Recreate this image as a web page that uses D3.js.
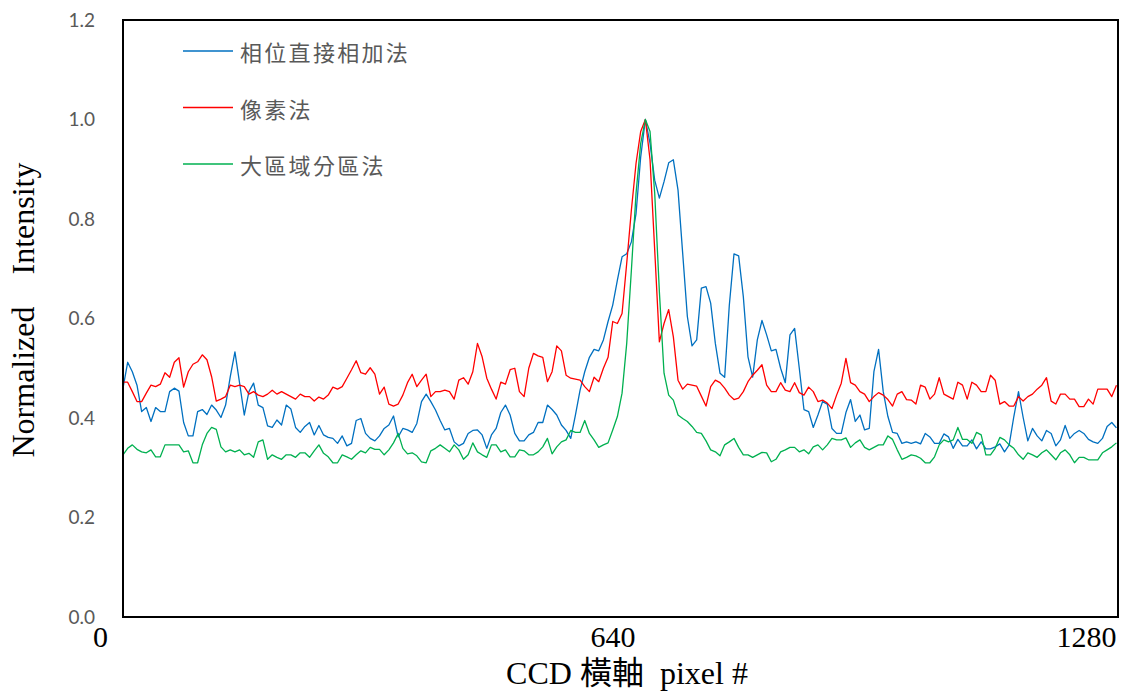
<!DOCTYPE html>
<html><head><meta charset="utf-8">
<script src="https://cdn.jsdelivr.net/npm/d3@7"></script>
<style>
html,body{margin:0;padding:0;background:#fff;}
svg{display:block;}
</style></head><body>
<svg id="chart" width="1122" height="693"></svg>
<script>
// ---- data ----
const seriesNames = ["相位直接相加法", "像素法", "大區域分區法"];
const seriesColors = ["#0070C0", "#FF0000", "#00B050"];
const xStep = 6; // pixel spacing between samples

const blueValues = [
.460,.512,.493,.466,.413,.421,.393,.421,.413,.413,
.453,.460,.454,.391,.364,.364,.413,.417,.407,.426,
.416,.401,.426,.483,.533,.470,.406,.453,.470,.426,
.421,.384,.381,.396,.386,.426,.418,.381,.371,.383,
.391,.366,.385,.366,.361,.359,.349,.364,.344,.349,
.395,.399,.369,.359,.354,.364,.379,.386,.404,.362,
.379,.376,.371,.389,.433,.448,.433,.416,.395,.376,
.379,.352,.344,.349,.369,.375,.376,.366,.339,.366,
.379,.411,.426,.406,.369,.354,.354,.366,.371,.391,
.391,.426,.417,.406,.386,.375,.359,.406,.456,.493,
.522,.538,.535,.557,.594,.627,.677,.724,.730,.754,
.811,.925,1.0,.952,.878,.842,.875,.913,.919,.858,
.731,.604,.545,.557,.661,.664,.631,.550,.490,.482,
.627,.730,.726,.644,.523,.482,.557,.596,.567,.535,
.538,.500,.471,.567,.580,.500,.417,.413,.381,.406,
.433,.428,.379,.369,.369,.411,.437,.393,.406,.376,
.379,.493,.538,.453,.403,.371,.369,.349,.352,.349,
.352,.348,.369,.362,.349,.349,.368,.362,.339,.357,
.344,.344,.356,.338,.352,.338,.338,.342,.348,.332,
.346,.403,.453,.401,.354,.379,.364,.354,.375,.369,
.344,.356,.385,.359,.369,.375,.369,.357,.352,.349,
.359,.383,.391,.380
];

const redValues = [
.472,.472,.453,.433,.433,.450,.466,.463,.468,.491,
.482,.512,.521,.462,.493,.508,.513,.527,.517,.483,
.434,.438,.443,.466,.463,.466,.463,.448,.453,.446,
.443,.448,.456,.448,.453,.448,.443,.438,.448,.443,
.443,.434,.442,.438,.446,.462,.458,.463,.480,.497,
.515,.491,.488,.501,.488,.448,.462,.428,.424,.428,
.446,.471,.488,.463,.476,.488,.443,.453,.453,.456,
.453,.438,.476,.481,.468,.493,.550,.523,.480,.458,
.438,.472,.468,.497,.500,.453,.443,.500,.530,.525,
.522,.473,.493,.545,.535,.486,.480,.478,.476,.463,
.453,.482,.473,.500,.522,.594,.590,.610,.711,.818,
.912,.976,1.0,.919,.738,.553,.590,.618,.563,.476,
.458,.468,.466,.464,.444,.424,.463,.476,.471,.460,
.446,.437,.440,.453,.473,.486,.496,.507,.466,.453,
.453,.471,.456,.453,.471,.451,.446,.462,.453,.433,
.436,.430,.419,.446,.470,.520,.471,.466,.453,.448,
.433,.443,.451,.446,.437,.424,.448,.453,.437,.436,
.428,.466,.462,.438,.448,.481,.448,.443,.438,.472,
.466,.438,.472,.466,.453,.453,.486,.476,.428,.433,
.424,.424,.443,.434,.443,.448,.458,.466,.481,.434,
.428,.448,.448,.438,.438,.423,.423,.438,.428,.458,
.458,.458,.443,.466
];

const greenValues = [
.326,.339,.346,.337,.332,.330,.336,.322,.322,.346,
.346,.346,.346,.332,.334,.310,.310,.346,.369,.381,
.377,.342,.332,.336,.332,.336,.326,.329,.321,.352,
.356,.317,.326,.321,.317,.326,.326,.321,.330,.330,
.321,.334,.346,.329,.322,.310,.310,.326,.322,.317,
.326,.334,.330,.341,.337,.337,.326,.336,.350,.369,
.339,.328,.330,.324,.312,.310,.334,.339,.346,.339,
.332,.346,.336,.317,.326,.350,.332,.326,.321,.346,
.346,.332,.336,.322,.322,.336,.334,.326,.326,.332,
.342,.359,.328,.342,.352,.356,.375,.371,.371,.395,
.369,.356,.341,.346,.350,.376,.403,.450,.550,.697,
.852,.952,1.0,.976,.852,.654,.490,.446,.436,.406,
.399,.393,.383,.371,.369,.354,.336,.332,.324,.346,
.352,.359,.341,.326,.326,.321,.326,.331,.330,.312,
.317,.332,.336,.341,.341,.332,.336,.328,.342,.346,
.336,.346,.359,.356,.356,.360,.341,.350,.356,.341,
.336,.341,.346,.346,.364,.357,.336,.317,.321,.326,
.324,.319,.310,.310,.322,.346,.356,.352,.356,.381,
.357,.357,.349,.371,.366,.326,.326,.339,.361,.356,
.346,.339,.326,.317,.330,.326,.321,.330,.336,.326,
.316,.330,.336,.326,.310,.321,.321,.316,.316,.316,
.330,.336,.342,.350
];

const xTickValues = [0, 640, 1280];
const xTickLabels = ["0", "640", "1280"];
const yTickValues = [0, 0.2, 0.4, 0.6, 0.8, 1.0, 1.2];
const xAxisTitle = "CCD 橫軸  pixel #";
const yAxisTitle = "Normalized    Intensity";

// ---- layout ----
const W = 1122, H = 693;
const margin = {left: 123, right: 4, top: 20, bottom: 76};
const pw = W - margin.left - margin.right;
const ph = H - margin.top - margin.bottom;

const svg = d3.select("#chart");
const g = svg.append("g").attr("transform", `translate(${margin.left},${margin.top})`);

const x = d3.scaleLinear().domain([0, 1280]).range([0, pw]);
const y = d3.scaleLinear().domain([0, 1.2]).range([ph, 0]);

const allSeries = [blueValues, redValues, greenValues];

// y axis
const yAxis = g.append("g")
  .call(d3.axisLeft(y).tickValues(yTickValues).tickFormat(d3.format(".1f")).tickSize(0).tickPadding(28));
yAxis.select(".domain").remove();
yAxis.selectAll("text")
  .attr("fill", "#595959")
  .style("font-family", "Lato, 'Open Sans', sans-serif")
  .style("font-size", "19px");

// x axis
const xLabelShift = [-23, -8, -32];
const xAxis = g.append("g")
  .attr("transform", `translate(0,${ph})`)
  .call(d3.axisBottom(x).tickValues(xTickValues).tickFormat((d, i) => xTickLabels[i]).tickSize(0).tickPadding(9));
xAxis.select(".domain").remove();
xAxis.selectAll("text")
  .attr("fill", "#000")
  .attr("dx", (d, i) => xLabelShift[i])
  .style("font-family", "'Liberation Serif', 'Times New Roman', serif")
  .style("font-size", "30px");

// lines
const line = d3.line()
  .x((d, i) => x(i * xStep))
  .y(d => y(d));

svg.append("clipPath").attr("id", "plotclip")
  .append("rect").attr("width", pw).attr("height", ph);

const lines = g.append("g").attr("clip-path", "url(#plotclip)");
allSeries.forEach((vals, k) => {
  lines.append("path")
    .datum(vals)
    .attr("d", line)
    .attr("fill", "none")
    .attr("stroke", seriesColors[k])
    .attr("stroke-width", 1.3)
    .attr("stroke-linejoin", "round");
});

// frame
g.append("rect")
  .attr("width", pw).attr("height", ph)
  .attr("fill", "none").attr("stroke", "#000").attr("stroke-width", 2);

// legend
const legendY = [31, 87.5, 144];
const legend = g.append("g");
seriesNames.forEach((name, k) => {
  legend.append("line")
    .attr("x1", 60).attr("x2", 110)
    .attr("y1", legendY[k]).attr("y2", legendY[k])
    .attr("stroke", seriesColors[k]).attr("stroke-width", 1.3);
  legend.append("text")
    .attr("x", 117).attr("y", legendY[k])
    .attr("dominant-baseline", "central")
    .attr("fill", "#595959")
    .style("font-family", "'Noto Sans CJK TC', 'Noto Sans CJK SC', sans-serif")
    .style("font-size", "22px")
    .style("letter-spacing", "2.3px")
    .text(name);
});

// axis titles
svg.append("text")
  .attr("x", 627).attr("y", 684)
  .attr("text-anchor", "middle")
  .attr("fill", "#000")
  .style("font-family", "'Liberation Serif', 'Noto Sans CJK TC', serif")
  .style("font-size", "32px")
  .style("white-space", "pre")
  .text(xAxisTitle);

svg.append("text")
  .attr("transform", "translate(34,310) rotate(-90)")
  .attr("text-anchor", "middle")
  .attr("fill", "#000")
  .style("font-family", "'Liberation Serif', serif")
  .style("font-size", "32px")
  .style("white-space", "pre")
  .text(yAxisTitle);
</script>
</body></html>
